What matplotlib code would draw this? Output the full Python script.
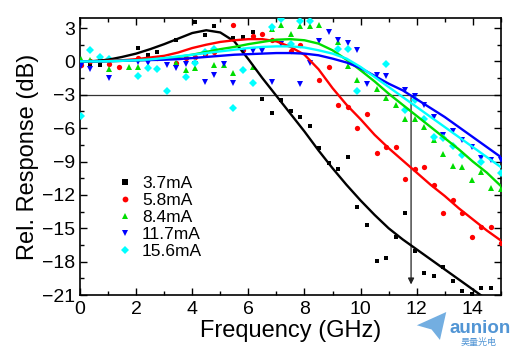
import numpy as np
import matplotlib
matplotlib.use("Agg")
import matplotlib.pyplot as plt
from matplotlib.patches import Polygon
from matplotlib.ticker import MultipleLocator

nan = np.nan

# measurement frequencies (GHz)
freq = [0.03, 0.37, 0.71, 1.05, 1.39, 1.73, 2.07, 2.41, 2.75, 3.09,
        3.43, 3.77, 4.11, 4.45, 4.79, 5.13, 5.47, 5.81, 6.15, 6.49,
        6.83, 7.17, 7.51, 7.85, 8.19, 8.53, 8.87, 9.21, 9.55, 9.89,
        10.23, 10.57, 10.91, 11.25, 11.59, 11.93, 12.27, 12.61, 12.95, 13.29,
        13.63, 13.97, 14.31, 14.65, 14.99]

labels = ["3.7mA", "5.8mA", "8.4mA", "11.7mA", "15.6mA"]

meas_37 = [-0.1, -0.2, -0.3, nan, nan, nan, 1.2, 0.6, 0.8, nan,
           1.9, nan, 3.5, 2.4, 3.2, nan, 2.1, 2.2, 2.6, -3.4,
           -4.6, -3.5, -4.5, -5.0, -5.8, -7.8, -9.1, -9.7, -8.6, -13.1,
           -14.7, -17.9, -17.7, -15.8, -13.6, -17.0, -19.0, -19.3, -18.5, -19.7,
           -20.6, -20.9, -20.4, -20.4, nan]
meas_58 = [-0.35, 0.0, 0.1, -0.2, -0.5, nan, 0.3, nan, 0.3, nan,
           -0.1, 0.3, 0.4, 0.7, 0.85, nan, 3.25, 1.0, 2.3, 2.5,
           1.9, nan, 0.93, 1.44, nan, -1.7, -0.5, -3.9, -4.1, -6.0,
           -4.7, -8.2, -7.7, -7.7, -10.6, -9.7, -9.5, -11.1, -13.6, -12.5,
           -13.6, -15.8, -14.9, -14.9, -16.3]
meas_84 = [0.24, 0.15, nan, -0.65, nan, -0.5, -0.5, -0.4, nan, nan,
           -0.12, -0.8, -0.6, nan, -0.3, -0.36, -1.05, nan, -0.5, nan,
           2.9, 3.24, 2.43, 3.15, 3.15, 3.24, nan, 1.7, -0.45, -1.7,
           nan, -2.46, -3.27, -3.9, -5.2, -5.2, -5.9, -7.05, -8.3, -9.4,
           -9.5, -10.7, -9.9, -11.4, -11.5]
meas_117 = [-0.4, -0.66, nan, -1.45, nan, nan, -0.06, -0.12, nan, -0.33,
            -0.6, -0.2, -0.2, -1.86, -1.2, -0.2, -1.9, 0.95, 0.93, 0.93,
            -1.86, 1.6, nan, -2.0, -0.18, 1.83, 2.65, 1.9, 1.62, 1.0,
            -2.0, -1.2, -1.3, nan, -2.6, -3.1, -3.9, -5.0, -6.6, -6.3,
            -7.05, -7.7, -8.7, -8.86, -8.86]
meas_156 = [-4.9, 1.05, 0.4, 0.24, nan, nan, -1.35, -0.6, -0.7, -2.7,
            nan, -1.44, -0.1, 0.84, 1.1, nan, -4.15, -0.8, -1.95, nan,
            3.1, 3.8, 1.6, 3.6, 3.65, nan, nan, 1.14, 1.14, -2.67,
            nan, nan, -0.2, nan, -4.4, -3.5, -5.16, -6.8, -6.85, -7.6,
            -8.45, nan, -9.07, nan, -10.0]

# fitted response curves
fit_freq = [0.0, 0.5, 1.0, 1.5, 2.0, 2.5, 3.0, 3.5, 4.0, 4.5,
            5.0, 5.5, 6.0, 6.5, 7.0, 7.5, 8.0, 8.5, 9.0, 9.5,
            10.0, 10.5, 11.0, 11.5, 12.0, 12.5, 13.0, 13.5, 14.0, 14.5, 15.0]
fit_37 = [0.0, 0.03, 0.15, 0.4, 0.7, 1.1, 1.55, 2.05, 2.55, 2.8,
          2.6, 1.8, 0.2, -1.5, -3.1, -4.7, -6.3, -8.0, -9.6, -11.1,
          -12.5, -13.8, -15.0, -16.0, -16.9, -17.8, -18.7, -19.6, -20.5, -21.4, -22.3]
fit_58 = [0.0, 0.0, 0.05, 0.1, 0.2, 0.35, 0.5, 0.8, 1.2, 1.5,
          1.75, 1.9, 2.0, 2.0, 1.8, 1.3, 0.6, -0.7, -2.4, -3.9,
          -5.2, -6.6, -7.8, -8.9, -10.0, -11.1, -12.1, -13.2, -14.2, -15.2, -16.1]
fit_84 = [0.0, 0.0, 0.02, 0.05, 0.1, 0.15, 0.25, 0.4, 0.6, 0.85,
          1.1, 1.3, 1.55, 1.75, 1.95, 2.0, 1.9, 1.6, 1.0, 0.15,
          -0.8, -1.8, -2.9, -3.9, -4.9, -5.9, -6.9, -7.9, -9.0, -10.0, -11.2]
fit_117 = [0.0, 0.0, 0.02, 0.05, 0.1, 0.12, 0.15, 0.2, 0.3, 0.4,
           0.5, 0.6, 0.65, 0.7, 0.75, 0.75, 0.7, 0.55, 0.25, -0.1,
           -0.6, -1.3, -2.0, -2.6, -3.4, -4.2, -5.0, -5.9, -6.8, -7.7, -8.6]
fit_156 = [0.0, 0.0, 0.02, 0.05, 0.1, 0.18, 0.3, 0.45, 0.6, 0.75,
           0.9, 1.05, 1.2, 1.3, 1.35, 1.35, 1.25, 1.0, 0.7, 0.25,
           -0.5, -1.4, -2.3, -3.2, -4.1, -5.0, -5.9, -6.8, -7.7, -8.6, -9.5]

f3db = 11.8

colors = ["#000000", "#ff0000", "#00dd00", "#0000ff", "#00ffff"]
markers = ["s", "o", "^", "v", "D"]
msizes = [3.4, 3.8, 4.3, 4.3, 3.6]

plt.rcParams['font.family'] = ['Liberation Sans', 'DejaVu Sans']

fig = plt.figure(figsize=(5.25, 3.49), dpi=100)
ax = fig.add_axes([0.1524, 0.1547, 0.954 - 0.1524, 0.9484 - 0.1547])

meas = [meas_37, meas_58, meas_84, meas_117, meas_156]
fits = [fit_37, fit_58, fit_84, fit_117, fit_156]

ax.axhline(-3, color="#333333", lw=0.9, zorder=1)
ax.annotate("", xy=(f3db, -20.3), xytext=(f3db, -3),
            arrowprops=dict(arrowstyle="-|>", color="#222222", lw=0.9,
                            mutation_scale=9), zorder=1)

for m, f, c, mk, ms, lab in zip(meas, fits, colors, markers, msizes, labels):
    ax.plot(freq, m, linestyle="none", marker=mk, color=c, ms=ms,
            markeredgewidth=0, label=lab, zorder=3, clip_on=True)
    ax.plot(fit_freq, f, color=c, lw=1.7, zorder=4)

ax.set_xlim(0, 15)
ax.set_ylim(-21, 3.9)
ax.xaxis.set_major_locator(MultipleLocator(2))
ax.xaxis.set_minor_locator(MultipleLocator(1))
ax.yaxis.set_major_locator(MultipleLocator(3))
ax.yaxis.set_minor_locator(MultipleLocator(1.5))
ax.tick_params(which="both", direction="in", top=True, right=True,
               labelsize=14, width=1)
ax.tick_params(which="major", length=5)
ax.tick_params(which="minor", length=3)
ax.tick_params(axis="x", pad=4)
for s in ax.spines.values():
    s.set_linewidth(1.2)

ax.set_xlabel("Frequency (GHz)", fontsize=17, labelpad=2)
ax.set_ylabel("Rel. Response (dB)", fontsize=17, labelpad=2)

leg = ax.legend(loc="upper left", bbox_to_anchor=(0.065, 0.455), frameon=False,
                fontsize=12.5, handletextpad=0.4, labelspacing=0.1,
                handlelength=1.2, borderaxespad=0, markerscale=1.1)

# watermark logo
logo = Polygon([[0.794, 0.068], [0.850, 0.106], [0.838, 0.026], [0.822, 0.056]],
               closed=True, transform=fig.transFigure, facecolor="#5aa0dc",
               edgecolor="none", alpha=0.85)
fig.patches.append(logo)
fig.text(0.856, 0.046, "aunion", color="#3f8ad0", fontsize=13.5, fontweight="bold",
         family=["Liberation Sans", "DejaVu Sans"], alpha=0.9)
fig.text(0.878, 0.012, "昊量光电", color="#3f8ad0", fontsize=6.5,
         family=["Noto Sans CJK SC", "DejaVu Sans"], alpha=0.9)

fig.savefig("out.png", dpi=100)
